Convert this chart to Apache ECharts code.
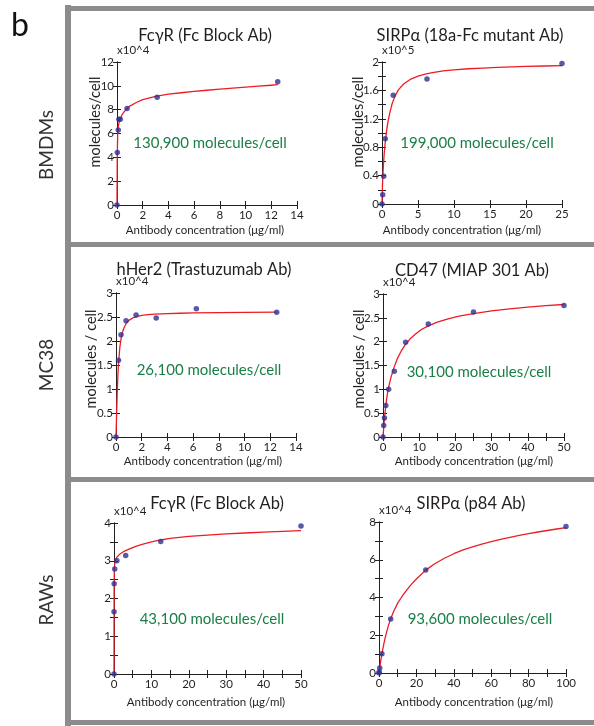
<!DOCTYPE html>
<html><head><meta charset="utf-8">
<script src="https://cdn.jsdelivr.net/npm/echarts@6.0.0/dist/echarts.min.js"></script>
<style>html,body{margin:0;padding:0;background:#fff}#c{width:594px;height:726px}</style>
</head><body><div id="c"></div>
<script>
// ---------- data ----------
const rowLabels = ['BMDMs', 'MC38', 'RAWs'];
const titles = ['FcγR (Fc Block Ab)', 'SIRPα (18a-Fc mutant Ab)', 'hHer2 (Trastuzumab Ab)', 'CD47 (MIAP 301 Ab)', 'FcγR (Fc Block Ab)', 'SIRPα (p84 Ab)'];
const annotations = ['130,900 molecules/cell', '199,000 molecules/cell', '26,100 molecules/cell', '30,100 molecules/cell', '43,100 molecules/cell', '93,600 molecules/cell'];
const scaleLabels = ['x10^4', 'x10^5', 'x10^4', 'x10^4', 'x10^4', 'x10^4'];
const yNames = ['molecules/cell', 'molecules/cell', 'molecules / cell', 'molecules / cell', '', ''];
const xName = 'Antibody concentration (μg/ml)';

// panel 1: BMDMs FcγR (x10^4)
const conc1 = [0, 0.024, 0.098, 0.15, 0.25, 0.78, 3.125, 12.5];
const bound1 = [0, 4.4, 6.3, 7.2, 7.2, 8.1, 9.05, 10.35];
const fitX1 = [0, 0.02, 0.05, 0.1, 0.2, 0.4, 0.7, 1, 1.5, 2, 3, 4, 5, 6, 7, 8, 9, 10, 11, 12, 12.5];
const fitY1 = [0, 4.0, 5.8, 6.6, 7.1, 7.6, 8.0, 8.3, 8.6, 8.85, 9.12, 9.3, 9.42, 9.53, 9.63, 9.72, 9.81, 9.89, 9.97, 10.05, 10.1];
// panel 2: BMDMs SIRPα (x10^5)
const conc2 = [0, 0.098, 0.24, 0.45, 1.56, 6.25, 25];
const bound2 = [0, 0.13, 0.39, 0.92, 1.53, 1.76, 1.98];
const fitX2 = [0, 0.05, 0.1, 0.2, 0.3, 0.45, 0.65, 0.85, 1.1, 1.4, 1.8, 2.3, 3, 4, 5, 6, 7, 8.5, 10, 12, 14, 16, 18, 20, 22.5, 25];
const fitY2 = [0, 0.2, 0.36, 0.55, 0.7, 0.87, 1.04, 1.17, 1.29, 1.41, 1.52, 1.61, 1.69, 1.76, 1.8, 1.83, 1.85, 1.875, 1.89, 1.905, 1.915, 1.925, 1.932, 1.938, 1.944, 1.95];
// panel 3: MC38 hHer2 (x10^4)
const conc3 = [0, 0.195, 0.39, 0.78, 1.56, 3.125, 6.25, 12.5];
const bound3 = [0, 1.60, 2.13, 2.42, 2.54, 2.48, 2.67, 2.60];
const fitX3 = [0, 0.05, 0.1, 0.15, 0.2, 0.3, 0.4, 0.5, 0.6, 0.8, 1, 1.3, 1.6, 2, 2.5, 3, 4, 5, 6, 8, 10, 12.5];
const fitY3 = [0, 0.5, 0.95, 1.3, 1.55, 1.87, 2.06, 2.18, 2.26, 2.37, 2.43, 2.48, 2.51, 2.535, 2.55, 2.56, 2.57, 2.578, 2.584, 2.59, 2.595, 2.6];
// panel 4: MC38 CD47 (x10^4)
const conc4 = [0, 0.195, 0.39, 0.78, 1.56, 3.125, 6.25, 12.5, 25, 50];
const bound4 = [0, 0.24, 0.40, 0.66, 1.0, 1.38, 1.99, 2.37, 2.62, 2.76];
const fitX4 = [0, 0.2, 0.4, 0.8, 1.2, 1.6, 2.2, 3, 4, 5, 6.25, 7.5, 9, 10.5, 12.5, 15, 18, 21, 25, 30, 35, 40, 45, 50];
const fitY4 = [0, 0.2, 0.38, 0.68, 0.9, 1.06, 1.25, 1.45, 1.65, 1.8, 1.95, 2.06, 2.16, 2.25, 2.33, 2.41, 2.48, 2.535, 2.59, 2.645, 2.69, 2.725, 2.755, 2.78];
// panel 5: RAWs FcγR (x10^4)
const conc5 = [0, 0.012, 0.049, 0.195, 0.78, 3.125, 12.5, 50];
const bound5 = [0, 1.65, 2.39, 2.78, 3.0, 3.14, 3.51, 3.92];
const fitX5 = [0, 0.01, 0.03, 0.06, 0.1, 0.2, 0.4, 0.8, 1.5, 2.5, 4, 6, 8, 10, 12.5, 15, 20, 25, 30, 35, 40, 45, 50];
const fitY5 = [0, 1.2, 2.2, 2.6, 2.78, 2.92, 3.02, 3.1, 3.17, 3.24, 3.31, 3.39, 3.45, 3.5, 3.55, 3.59, 3.645, 3.68, 3.71, 3.735, 3.76, 3.78, 3.8];
// panel 6: RAWs SIRPα (x10^4)
const conc6 = [0, 0.098, 0.39, 1.56, 6.25, 25, 100];
const bound6 = [0, 0.05, 0.27, 1.02, 2.86, 5.46, 7.76];
const fitX6 = [0, 0.4, 1, 1.56, 2.5, 3.5, 5, 6.25, 8, 10, 12.5, 15, 17.5, 20, 25, 30, 35, 40, 45, 50, 55, 60, 65, 70, 75, 80, 85, 90, 95, 100];
const fitY6 = [0, 0.3, 0.7, 1.02, 1.5, 1.95, 2.5, 2.88, 3.3, 3.7, 4.08, 4.42, 4.72, 4.98, 5.45, 5.8, 6.08, 6.32, 6.52, 6.68, 6.83, 6.96, 7.08, 7.19, 7.29, 7.38, 7.47, 7.55, 7.63, 7.7];

// axis ranges / ticks
const xMax = [14, 25, 14, 50, 50, 100];
const xTick = [2, 5, 2, 5, 5, 10];
const xLabelStep = [2, 5, 2, 10, 10, 20];
const yMax = [12, 2, 3, 3, 4, 8];
const yTick = [2, 0.2, 0.5, 0.5, 0.5, 1];
const yLabelStep = [2, 0.4, 0.5, 0.5, 1, 2];

// ---------- layout ----------
const concs = [conc1, conc2, conc3, conc4, conc5, conc6];
const bounds = [bound1, bound2, bound3, bound4, bound5, bound6];
const fitXs = [fitX1, fitX2, fitX3, fitX4, fitX5, fitX6];
const fitYs = [fitY1, fitY2, fitY3, fitY4, fitY5, fitY6];

const gridPos = [
  {left: 117, top: 62, width: 180, height: 143},
  {left: 382, top: 62, width: 180, height: 142},
  {left: 116, top: 293, width: 180, height: 144},
  {left: 383, top: 294, width: 181, height: 143},
  {left: 114, top: 523, width: 187, height: 151},
  {left: 379, top: 522, width: 187, height: 151}
];
const titlePos = [[205, 36], [470, 36], [204, 270], [472, 271], [217, 504], [471, 504]];
const annPos = [[210, 143], [477, 143], [209, 370], [479, 372], [212, 619], [480, 619]];
const xNamePos = [[205, 230], [462, 230], [203, 461], [474, 461], [206, 702], [474, 702]];
const yNamePos = [[95, 122], [358, 122], [91, 359], [359, 359]];
const rowPos = [[47, 145], [47, 365], [47, 600]];

const FONT = 'Lato, "Open Sans", sans-serif';
const TXT = '#231f20';

function fmt(v) { return String(parseFloat(v.toFixed(2))); }
function stepFormatter(step) {
  return function (v) {
    const r = v / step;
    return Math.abs(r - Math.round(r)) < 1e-6 ? fmt(v) : '';
  };
}

const grids = [], xAxes = [], yAxes = [], series = [], graphics = [];
const axisLine = {show: true, lineStyle: {color: '#231f20', width: 1}};
const tick = {show: true, inside: true, length: 4, lineStyle: {color: '#231f20', width: 1}};

for (let i = 0; i < 6; i++) {
  grids.push(Object.assign({containLabel: false}, gridPos[i]));
  xAxes.push({
    type: 'value', gridIndex: i, position: 'bottom', min: 0, max: xMax[i], interval: xTick[i],
    axisLine, axisTick: tick, splitLine: {show: false},
    axisLabel: {color: TXT, fontFamily: FONT, fontSize: 11.5, margin: 4, formatter: stepFormatter(xLabelStep[i]), showMaxLabel: true, showMinLabel: true}
  });
  xAxes.push({
    type: 'value', gridIndex: i, position: 'top', min: 0, max: xMax[i], interval: xTick[i],
    axisLine, axisTick: tick, splitLine: {show: false}, axisLabel: {show: false}
  });
  yAxes.push({
    type: 'value', gridIndex: i, position: 'left', min: 0, max: yMax[i], interval: yTick[i],
    axisLine, axisTick: tick, splitLine: {show: false},
    axisLabel: {color: TXT, fontFamily: FONT, fontSize: 11.5, margin: 3, formatter: stepFormatter(yLabelStep[i]), showMaxLabel: true, showMinLabel: true},
    name: scaleLabels[i], nameLocation: 'end', nameGap: 3,
    nameTextStyle: {color: TXT, fontFamily: FONT, fontSize: 11.5, align: 'left', verticalAlign: 'bottom', padding: [0, 0, 0, 0]}
  });
  yAxes.push({
    type: 'value', gridIndex: i, position: 'right', min: 0, max: yMax[i], interval: yTick[i],
    axisLine, axisTick: tick, splitLine: {show: false}, axisLabel: {show: false}
  });
  series.push({
    type: 'line', xAxisIndex: 2 * i, yAxisIndex: 2 * i,
    data: fitXs[i].map((x, k) => [x, fitYs[i][k]]),
    showSymbol: false, smooth: false,
    lineStyle: {color: '#ed1c24', width: 1.3, join: 'round'}, z: 2, silent: true, animation: false
  });
  series.push({
    type: 'scatter', xAxisIndex: 2 * i, yAxisIndex: 2 * i,
    data: concs[i].map((x, k) => [x, bounds[i][k]]),
    symbol: 'circle', symbolSize: 5.5, itemStyle: {color: '#2e3192'}, z: 3, animation: false
  });
  graphics.push({type: 'text', x: titlePos[i][0], y: titlePos[i][1],
    style: {text: titles[i], align: 'center', verticalAlign: 'middle', fill: TXT, font: '16.5px ' + FONT}});
  graphics.push({type: 'text', x: annPos[i][0], y: annPos[i][1],
    style: {text: annotations[i], align: 'center', verticalAlign: 'middle', fill: '#1a7f45', font: '15px ' + FONT}});
  graphics.push({type: 'text', x: xNamePos[i][0], y: xNamePos[i][1],
    style: {text: xName, align: 'center', verticalAlign: 'middle', fill: TXT, font: '11.5px ' + FONT}});
  if (yNames[i]) {
    graphics.push({type: 'text', x: yNamePos[i][0], y: yNamePos[i][1], rotation: Math.PI / 2,
      style: {text: yNames[i], align: 'center', verticalAlign: 'middle', fill: TXT, font: '14.5px ' + FONT}});
  }
}

// frame
const GRAY = '#8c8c8c';
graphics.push({type: 'rect', shape: {x: 65, y: 5, width: 6, height: 721}, style: {fill: GRAY}});
graphics.push({type: 'rect', shape: {x: 65, y: 6, width: 529, height: 5}, style: {fill: GRAY}});
graphics.push({type: 'rect', shape: {x: 65, y: 242, width: 529, height: 5}, style: {fill: GRAY}});
graphics.push({type: 'rect', shape: {x: 65, y: 477, width: 529, height: 5}, style: {fill: GRAY}});
graphics.push({type: 'rect', shape: {x: 65, y: 720, width: 529, height: 5}, style: {fill: GRAY}});
rowLabels.forEach((t, k) => {
  graphics.push({type: 'text', x: rowPos[k][0], y: rowPos[k][1], rotation: Math.PI / 2,
    style: {text: t, align: 'center', verticalAlign: 'middle', fill: '#333', font: '19px ' + FONT}});
});
graphics.push({type: 'text', x: 20, y: 26,
  style: {text: 'b', align: 'center', verticalAlign: 'middle', fill: '#111', font: '32px ' + FONT}});

const chart = echarts.init(document.getElementById('c'), null, {renderer: 'canvas'});
chart.setOption({
  animation: false,
  grid: grids, xAxis: xAxes, yAxis: yAxes, series,
  graphic: {elements: graphics}
});
</script>
</body></html>
